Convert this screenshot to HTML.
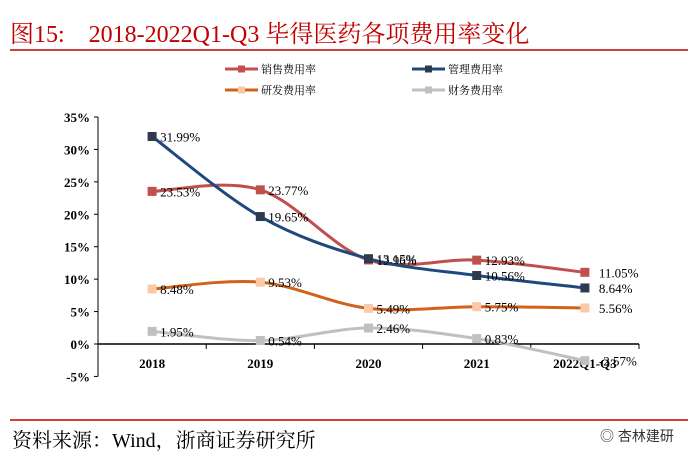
<!DOCTYPE html>
<html><head><meta charset="utf-8"><style>
body{margin:0;background:#fff;width:700px;height:466px;overflow:hidden;position:relative;font-family:"Liberation Serif","Noto Serif CJK SC",serif}
#title{position:absolute;left:10px;top:14px;font-size:24px;color:#c00000;white-space:pre}
#src{position:absolute;left:12px;top:424px;font-size:20px;color:#000}
#wm{position:absolute;left:600px;top:426px;font-size:14px;color:#333;font-family:"Liberation Sans","Noto Sans CJK SC",sans-serif}
</style></head><body>
<div id="title">图15:    2018-2022Q1-Q3 毕得医药各项费用率变化</div>
<div id="src">资料来源：Wind，浙商证券研究所</div>
<div id="wm">◎ 杏林建研</div>
<svg id="c" width="700" height="466" style="position:absolute;left:0;top:0">
<line x1="10" y1="50" x2="688" y2="50" stroke="#c00000" stroke-width="1.5"/>
<line x1="10" y1="420" x2="688" y2="420" stroke="#c00000" stroke-width="1.5"/>
</svg>
<script>
const categories=["2018","2019","2020","2021","2022Q1-Q3"];
const sales=[23.53,23.77,12.96,12.93,11.05];
const mgmt=[31.99,19.65,13.15,10.56,8.64];
const rnd=[8.48,9.53,5.49,5.75,5.56];
const fin=[1.95,0.54,2.46,0.83,-2.57];
const yTicks=[-5,0,5,10,15,20,25,30,35];
const seriesNames=["销售费用率","管理费用率","研发费用率","财务费用率"];
const svg=document.getElementById('c');const NS='http://www.w3.org/2000/svg';
const x0=98,x1=639,yZero=344,pp=6.486;
const X=i=>x0+(x1-x0)/categories.length*(i+0.5);
const Y=v=>yZero-v*pp;
function el(t,a,p){const e=document.createElementNS(NS,t);for(const k in a)e.setAttribute(k,a[k]);(p||svg).appendChild(e);return e;}
let ax=el('line',{x1:x0,y1:Y(35),x2:x0,y2:Y(-5),stroke:'#000'});


yTicks.forEach(t=>{el('line',{x1:x0-4,y1:Y(t),x2:x0,y2:Y(t),stroke:'#000'});
const tx=el('text',{x:x0-8,y:Y(t)+5,'text-anchor':'end','font-size':13,'font-weight':'bold'});tx.textContent=t+'%';

});
let xa=el('line',{x1:x0,y1:yZero,x2:x1,y2:yZero,stroke:'#000','stroke-width':1.5});


for(let i=0;i<=categories.length;i++){const xx=x0+(x1-x0)/categories.length*i;el('line',{x1:xx,y1:yZero,x2:xx,y2:yZero+5,stroke:'#000'});}
categories.forEach((c,i)=>{const t=el('text',{x:X(i),y:368,'text-anchor':'middle','font-size':13,'font-weight':'bold'});t.textContent=c;

});
function path(d){const p=d.map((v,i)=>[X(i),Y(v)]);let s=`M${p[0][0]},${p[0][1]}`;
for(let i=0;i<p.length-1;i++){const a=p[Math.max(0,i-1)],b=p[i],c=p[i+1],e=p[Math.min(p.length-1,i+2)];
s+=` C${b[0]+(c[0]-a[0])/6},${b[1]+(c[1]-a[1])/6} ${c[0]-(e[0]-b[0])/6},${c[1]-(e[1]-b[1])/6} ${c[0]},${c[1]}`;}return s;}
const defs=[[sales,'#c0504d','#c0504d','sales'],[mgmt,'#1f497d','#2e3b4e','mgmt'],[rnd,'#d0621b','#fbc9a6','rnd'],[fin,'#c0c0c0','#c0c0c0','fin']];
defs.forEach(([d,col,mk,n])=>{const g=el('g',{});
el('path',{d:path(d),fill:'none',stroke:col,'stroke-width':3},g);
d.forEach((v,i)=>{const r=el('rect',{x:X(i)-4.5,y:Y(v)-4.5,width:9,height:9,fill:mk},g);


const t=el('text',{x:X(i)+(i==4?14:8),y:Y(v)+5,'font-size':13},g);t.textContent=v.toFixed(2)+'%';

});});
const leg=[[225,69,'#c0504d','#c0504d'],[412,69,'#1f497d','#2e3b4e'],[225,90,'#d0621b','#fbc9a6'],[412,90,'#c0c0c0','#c0c0c0']];
leg.forEach(([lx,ly,col,mk],k)=>{const g=el('g',{});
el('line',{x1:lx,y1:ly,x2:lx+33,y2:ly,stroke:col,'stroke-width':3},g);el('rect',{x:lx+13,y:ly-3.5,width:7,height:7,fill:mk},g);
const t=el('text',{x:lx+36,y:ly+4,'font-size':11},g);t.textContent=seriesNames[k];});
</script>
</body></html>
